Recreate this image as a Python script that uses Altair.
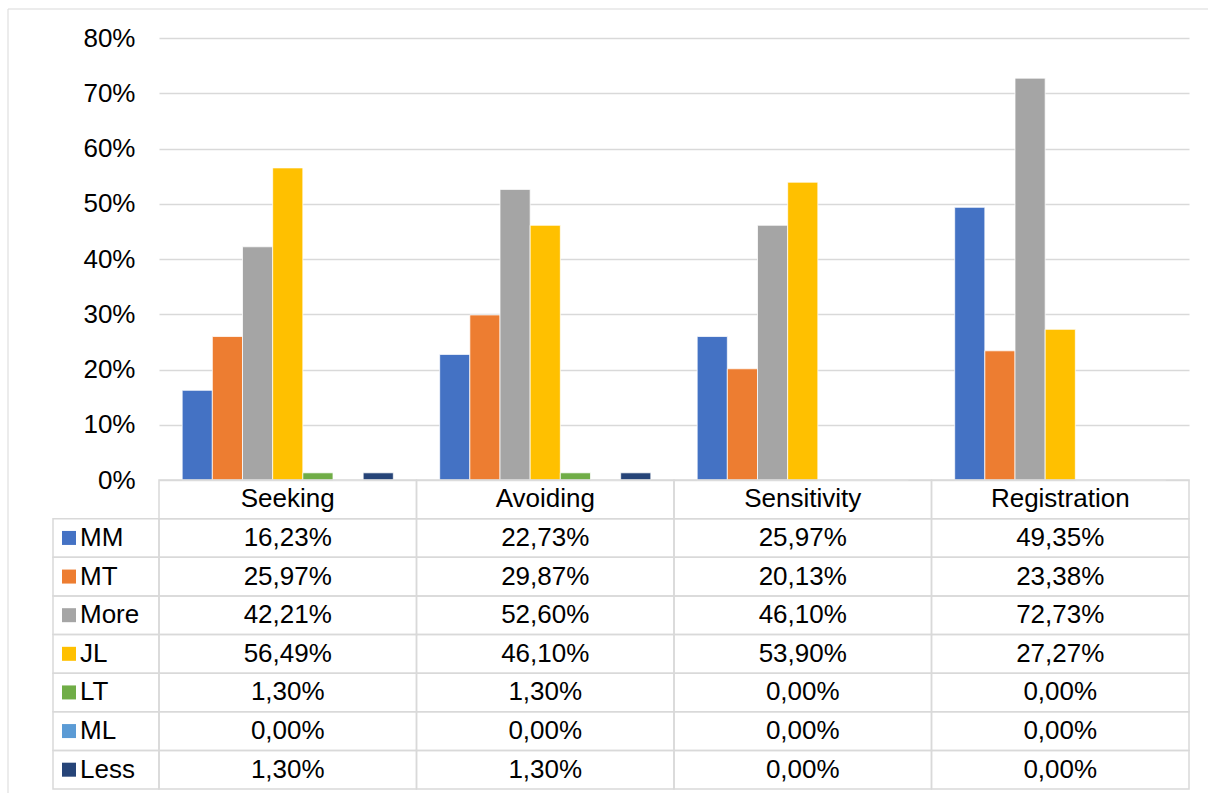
import altair as alt
import pandas as pd

# Categories, series and their percentages
categories = ["Seeking", "Avoiding", "Sensitivity", "Registration"]
series = ["MM", "MT", "More", "JL", "LT", "ML", "Less"]
colors = ["#4472C4", "#ED7D31", "#A5A5A5", "#FFC000", "#70AD47", "#5B9BD5", "#264478"]

mm = [16.23, 22.73, 25.97, 49.35]
mt = [25.97, 29.87, 20.13, 23.38]
more = [42.21, 52.60, 46.10, 72.73]
jl = [56.49, 46.10, 53.90, 27.27]
lt = [1.30, 1.30, 0.00, 0.00]
ml = [0.00, 0.00, 0.00, 0.00]
less = [1.30, 1.30, 0.00, 0.00]

y_ticks = [0, 0.1, 0.2, 0.3, 0.4, 0.5, 0.6, 0.7, 0.8]

values = dict(zip(series, [mm, mt, more, jl, lt, ml, less]))

rows = []
for s in series:
    for c, v in zip(categories, values[s]):
        rows.append({
            "category": c,
            "series": s,
            "pct": v / 100,
            "label": f"{v:.2f}".replace(".", ",") + "%",
        })
df = pd.DataFrame(rows)

HEADER = " "
row_keys = [HEADER] + series
header_df = pd.DataFrame({"category": categories, "series": HEADER, "label": categories})
table_df = pd.concat([header_df, df[["category", "series", "label"]]], ignore_index=True)
legend_df = pd.DataFrame({"series": series, "col": "key"})

FONT = "Liberation Sans"
LINE = "#d9d9d9"
color_scale = alt.Scale(domain=series, range=colors)

# Clustered columns
bars = alt.Chart(df).mark_bar(stroke="white", strokeWidth=0.75).encode(
    x=alt.X("category:N", sort=categories, axis=None,
            scale=alt.Scale(domain=categories, paddingInner=0.18, paddingOuter=0.09)),
    xOffset=alt.XOffset("series:N", scale=alt.Scale(domain=series, paddingInner=0, paddingOuter=0)),
    y=alt.Y("pct:Q", title=None,
            scale=alt.Scale(domain=[0, 0.8], nice=False),
            axis=alt.Axis(values=y_ticks, format=".0%", grid=True, gridColor=LINE,
                          gridWidth=1.5, domain=False, ticks=False, labelPadding=24,
                          labelFont=FONT, labelFontSize=26, labelColor="#000")),
    color=alt.Color("series:N", scale=color_scale, legend=None),
).properties(width=1030, height=442)

# Empty corner cell carrying the chart-area frame
frame_src = pd.DataFrame({"k": [0]})
frame_top = alt.Chart(frame_src).mark_rule(color=LINE, strokeWidth=1).encode(
    x=alt.value(-45), x2=alt.value(1155), y=alt.value(-29))
frame_left = alt.Chart(frame_src).mark_rule(color=LINE, strokeWidth=1).encode(
    x=alt.value(-45), y=alt.value(-29), y2=alt.value(755))
corner = alt.layer(frame_top, frame_left).properties(width=106, height=442)

# Data-table legend column
row_scale = alt.Scale(domain=row_keys, paddingInner=0, paddingOuter=0)
legend_base = alt.Chart(legend_df).encode(y=alt.Y("series:N", scale=row_scale, axis=None))
legend_cells = legend_base.mark_rect(fillOpacity=0, stroke=LINE, strokeWidth=1.5).encode(
    x=alt.X("col:N", axis=None, scale=alt.Scale(paddingInner=0, paddingOuter=0)))
legend_keys = legend_base.mark_square(size=196, opacity=1).encode(
    x=alt.value(16), color=alt.Color("series:N", scale=color_scale, legend=None))
legend_names = legend_base.mark_text(align="left", baseline="middle", font=FONT,
                                     fontSize=26, color="#000").encode(
    x=alt.value(27), text="series:N")
legend_col = alt.layer(legend_cells, legend_keys, legend_names).properties(width=106, height=309)

# Data-table values
t_base = alt.Chart(table_df).encode(
    x=alt.X("category:N", axis=None,
            scale=alt.Scale(domain=categories, paddingInner=0, paddingOuter=0)),
    y=alt.Y("series:N", scale=row_scale, axis=None),
)
t_cells = t_base.mark_rect(fillOpacity=0, stroke=LINE, strokeWidth=1.5)
t_text = t_base.mark_text(font=FONT, fontSize=26, color="#000", baseline="middle").encode(
    text="label:N")
table = alt.layer(t_cells, t_text).properties(width=1030, height=309)

chart = alt.concat(
    corner, bars, legend_col, table, columns=2, spacing=0, bounds="flush"
).resolve_scale(
    x="independent", y="independent"
).properties(
    padding={"left": 7, "top": 8, "right": 0, "bottom": 0}
).configure_view(stroke=None)

chart.save("out.html", embed_options={"renderer": "svg", "actions": False})
